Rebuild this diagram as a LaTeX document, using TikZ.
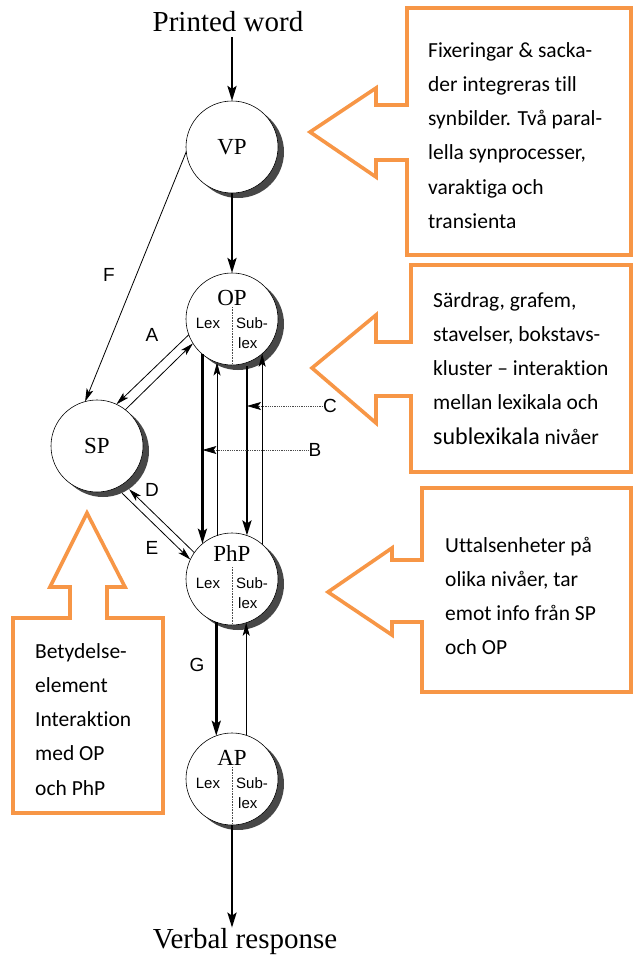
\documentclass[tikz,border=0pt]{standalone}
\usepackage{fontspec}
\setmainfont{Liberation Serif}
\newfontfamily\lettersans{Liberation Sans}
\newfontfamily\notefont[Ligatures=NoCommon]{Carlito}
\usetikzlibrary{arrows.meta,calc}
\definecolor{noteorange}{HTML}{F79646}
\definecolor{shadowgrey}{gray}{0.28}
% stacked lines with a fixed line pitch; baseline = first line
\newcommand{\notelines}[1]{\vtop{\baselineskip=34.3pt\lineskiplimit=-100pt\halign{##\hfil\cr#1\crcr}}}

\begin{document}
\begin{tikzpicture}[x=1pt,y=-1pt,
  proc/.style={circle,draw=black,line width=0.6pt,fill=white,minimum size=92pt,inner sep=0pt,outer sep=0pt,font=\fontsize{23}{23}\selectfont},
  proclabel/.style={font=\fontsize{23}{23}\selectfont,inner sep=0pt},
  partlabel/.style={font=\lettersans\fontsize{15}{15}\selectfont,inner sep=0pt},
  pathlabel/.style={font=\lettersans\fontsize{19}{19}\selectfont,inner sep=0pt},
  divider/.style={densely dotted,line width=0.6pt,black!70},
  strong/.style={line width=2.6pt,-{Stealth[length=15pt,width=9pt,inset=3pt]}},
  weak/.style={line width=0.8pt,-{Stealth[length=13pt,width=7pt,inset=3pt]}},
  hint/.style={densely dotted,line width=0.8pt,black!70,-{Stealth[length=14pt,width=8pt,inset=3pt,color=black]}},
  callout/.style={draw=noteorange,line width=3.6pt,miter limit=20,fill=white},
  note/.style={anchor=base west,inner sep=0pt,font=\notefont\fontsize{21.5}{21.5}\selectfont},
  shadow/.style={fill=shadowgrey}
]
\fill[white] (0,0) rectangle (634,961);
\useasboundingbox (0,0) rectangle (634,961);

% drop shadows of the processors
\foreach \cx/\cy in {232/147, 232/319, 97/446, 232/579, 232/779}
  \fill[shadow] (\cx+6,\cy+5) circle[radius=46];

% processors
\node[proc] (VP) at (232,147) {VP};
\node[proc] (OP) at (232,319) {};
\node[proc] (SP) at (97,446) {SP};
\node[proc] (PhP) at (232,579) {};
\node[proc] (AP) at (232,779) {};

% lexical / sublexical halves
\foreach \p/\dy in {OP/-21, PhP/-25, AP/-21} {
  \node[proclabel] (\p-name) at ($(\p)+(0,\dy)$) {\p};
  \node[partlabel] (\p-lex) at ($(\p)+(-24,4)$) {Lex};
  \node[partlabel,anchor=west] (\p-sub) at ($(\p)+(4,4)$) {Sub-};
  \node[partlabel,anchor=west] (\p-sublex) at ($(\p)+(6,24)$) {lex};
  \draw[divider] ($(\p)+(0,-12)$) -- (\p.south);
}

% input and output
\node[font=\fontsize{29}{29}\selectfont,inner sep=1pt] (PW) at (228,22) {Printed word};
\node[font=\fontsize{29}{29}\selectfont,inner sep=1pt] (VR) at (245,942) {Verbal response};

% main route
\draw[strong,shorten <=4pt] (PW.south -| VP.north) -- (VP.north);
\draw[strong] (VP.south) -- (OP.north);
\draw[strong] (AP.south) -- (VR.north -| AP.south);

% semantic links
\draw[weak] (VP.186) -- (SP.105);
\draw[weak] (OP.200) -- (SP.65);
\draw[weak] (SP.52) -- (OP.212);
\draw[weak,shorten >=8pt] (PhP.145) -- (SP.-55);
\draw[weak,shorten <=8pt] (SP.-65) -- (PhP.155);

% orthography <-> phonology
\draw[strong] (OP.-130.7) -- (PhP.130.7);
\draw[weak] (PhP.109) -- (OP.-109);
\draw[strong,shorten <=4pt] (OP.-71) -- (PhP.71);
\draw[weak] (PhP.49.3) -- (OP.-49.3);

% phonology <-> articulation
\draw[strong] (PhP.-110.4) -- (AP.110.4);
\draw[weak] (AP.72.3) -- (PhP.-72.3);

% route labels
\node[pathlabel] (F) at (109,275) {F};
\node[pathlabel] (A) at (152,335) {A};
\node[pathlabel] (C) at (330,406) {C};
\node[pathlabel] (B) at (315,450) {B};
\node[pathlabel] (D) at (152,490) {D};
\node[pathlabel] (E) at (152,548) {E};
\node[pathlabel] (G) at (197,665) {G};
\draw[hint] (C.west) -- (C.west -| OP.-71);
\draw[hint] (B.west) -- (B.west -| OP.-130.7);

% callouts
\draw[callout] (407,8) -- (631,8) -- (631,255) -- (407,255) -- (407,160) -- (376,160)
  -- (376,177) -- (310,132) -- (376,88) -- (376,105) -- (407,105) -- cycle;
\node[note] (vpnote) at (428,57) {\notelines{Fixeringar \& sacka-\cr der integreras till\cr synbilder. Två paral-\cr lella synprocesser,\cr varaktiga och\cr transienta}};

\draw[callout] (411,265) -- (631,265) -- (631,472) -- (411,472) -- (411,396) -- (376,396)
  -- (376,423) -- (312,368) -- (376,315) -- (376,342) -- (411,342) -- cycle;
\node[note] (opnote) at (433,307) {\notelines{Särdrag, grafem,\cr stavelser, bokstavs-\cr kluster – interaktion\cr mellan lexikala och\cr {\fontsize{24}{24}\selectfont sublexikala} nivåer}};

\draw[callout] (422,488) -- (631,488) -- (631,692) -- (422,692) -- (422,622) -- (392,622)
  -- (392,635) -- (328,592) -- (392,548) -- (392,560) -- (422,560) -- cycle;
\node[note] (phpnote) at (445,552) {\notelines{Uttalsenheter på\cr olika nivåer, tar\cr emot info från SP\cr och OP}};

\draw[callout] (13,618) -- (70,618) -- (70,587) -- (50,587) -- (87,513) -- (125,587)
  -- (107,587) -- (107,618) -- (163,618) -- (163,813) -- (13,813) -- cycle;
\node[note] (spnote) at (35,658) {\notelines{Betydelse-\cr element\cr Interaktion\cr med OP\cr och PhP}};
\end{tikzpicture}
\end{document}
